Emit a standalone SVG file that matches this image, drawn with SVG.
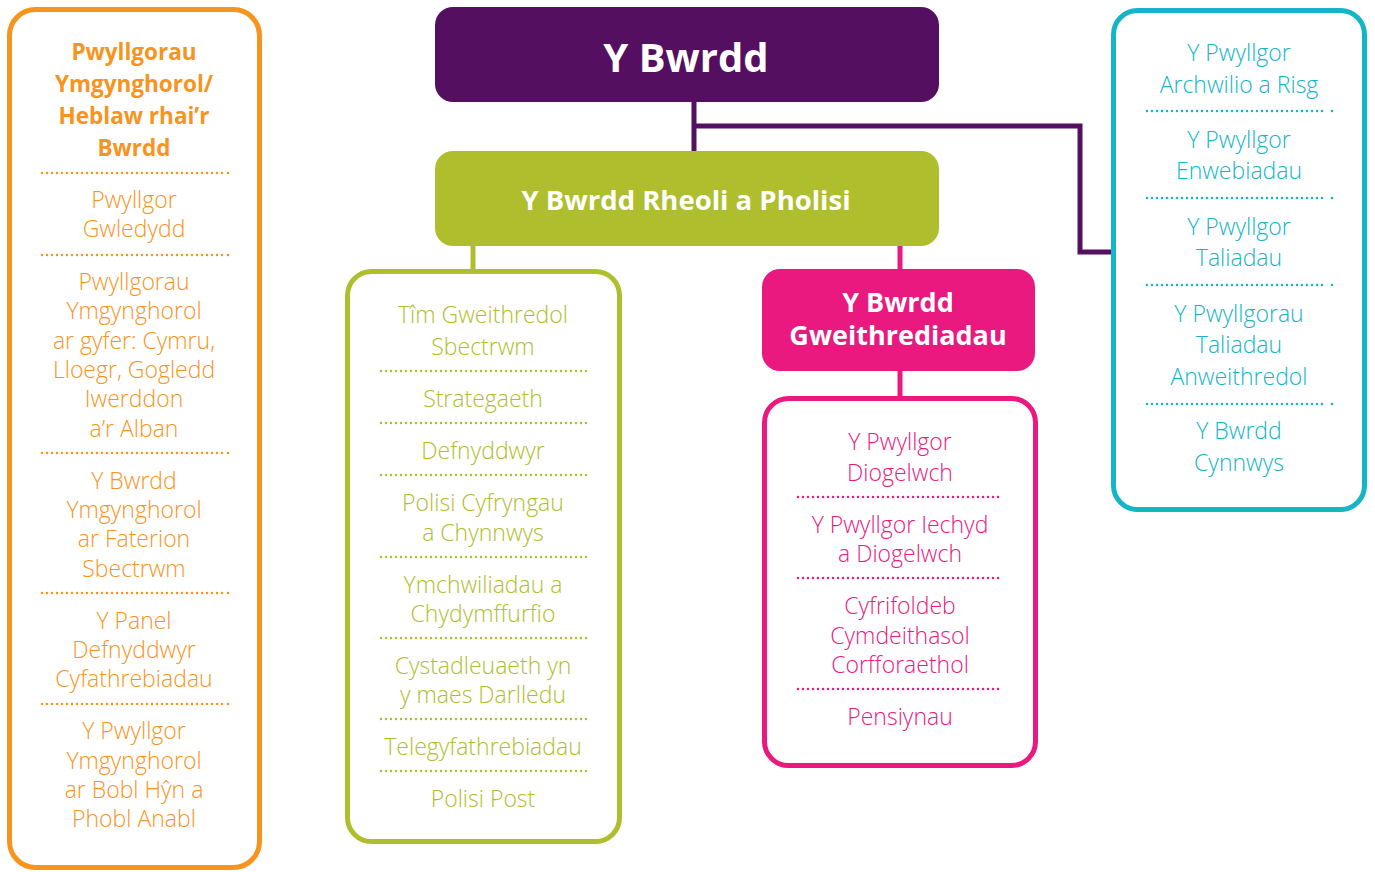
<svg xmlns="http://www.w3.org/2000/svg" width="1375" height="872" viewBox="0 0 1375 872">
<style>
.t{font-family:"Open Sans","Noto Sans",sans-serif;font-size:23px;font-weight:300;text-anchor:middle}
.b{font-family:"Open Sans","Noto Sans",sans-serif;font-weight:700;text-anchor:middle;fill:#fff}
.or{fill:#F7941D}.gr{fill:#AFBE2D}.pk{fill:#E9197F}.cy{fill:#13B5C7}
.box{fill:#fff;stroke-width:5}
.dot{stroke-width:2.5;stroke-linecap:round;stroke-dasharray:0 5;fill:none}
</style>
<rect width="1375" height="872" fill="#fff"/>
<g id="connectors" fill="none" stroke-width="5">
<path d="M694 101V151" stroke="#540F61"/>
<path d="M694 126H1080V252H1113" stroke="#540F61"/>
<path d="M473 245V271" stroke="#AFBE2D"/>
<path d="M900 245V269" stroke="#E9197F"/>
<path d="M900 371V398" stroke="#E9197F"/>
</g>
<g id="advisory">
<rect class="box" x="9.5" y="9.5" width="250" height="858" rx="26" stroke="#F7941D"/>
<g class="or" style="font-family:'Open Sans','Noto Sans',sans-serif;font-size:22.5px;font-weight:700;text-anchor:middle">
<text x="134" y="60">Pwyllgorau</text><text x="134" y="92">Ymgynghorol/</text><text x="134" y="124">Heblaw rhai’r</text><text x="134" y="156">Bwrdd</text>
</g>
<g class="t or">
<text x="134" y="208">Pwyllgor</text><text x="134" y="237">Gwledydd</text>
<text x="134" y="290">Pwyllgorau</text><text x="134" y="319">Ymgynghorol</text><text x="134" y="349">ar gyfer: Cymru,</text><text x="134" y="378">Lloegr, Gogledd</text><text x="134" y="407">Iwerddon</text><text x="134" y="437">a’r Alban</text>
<text x="134" y="489">Y Bwrdd</text><text x="134" y="518">Ymgynghorol</text><text x="134" y="547">ar Faterion</text><text x="134" y="577">Sbectrwm</text>
<text x="134" y="629">Y Panel</text><text x="134" y="658">Defnyddwyr</text><text x="134" y="687">Cyfathrebiadau</text>
<text x="134" y="739">Y Pwyllgor</text><text x="134" y="769">Ymgynghorol</text><text x="134" y="798">ar Bobl Hŷn a</text><text x="134" y="827">Phobl Anabl</text>
</g>
<g class="dot" stroke="#F7941D">
<path d="M42 173H223"/><path d="M42 255H223"/><path d="M42 453H223"/><path d="M42 593H223"/><path d="M42 704H223"/>
</g>
<g fill="#F7941D"><circle cx="228" cy="173" r="1.3"/><circle cx="228" cy="255" r="1.3"/><circle cx="228" cy="453" r="1.3"/><circle cx="228" cy="593" r="1.3"/><circle cx="228" cy="704" r="1.3"/></g>
</g>
<g id="board">
<rect x="435" y="7" width="504" height="95" rx="18" fill="#540F61"/>
<text class="b" x="686" y="72" font-size="40">Y Bwrdd</text>
</g>
<g id="mgmt">
<rect x="435" y="151" width="504" height="95" rx="18" fill="#AFBE2D"/>
<text class="b" x="686" y="210" font-size="27.5">Y Bwrdd Rheoli a Pholisi</text>
</g>
<g id="mgmt-list">
<rect class="box" x="347.5" y="271.5" width="272" height="570" rx="24" stroke="#AFBE2D"/>
<g class="t gr">
<text x="483" y="323">Tîm Gweithredol</text><text x="483" y="355">Sbectrwm</text>
<text x="483" y="407">Strategaeth</text>
<text x="483" y="459">Defnyddwyr</text>
<text x="483" y="511">Polisi Cyfryngau</text><text x="483" y="541">a Chynnwys</text>
<text x="483" y="593">Ymchwiliadau a</text><text x="483" y="622">Chydymffurfio</text>
<text x="483" y="674">Cystadleuaeth yn</text><text x="483" y="703">y maes Darlledu</text>
<text x="483" y="755">Telegyfathrebiadau</text>
<text x="483" y="807">Polisi Post</text>
</g>
<g class="dot" stroke="#AFBE2D">
<path d="M381 371H587"/><path d="M381 423H587"/><path d="M381 475H587"/><path d="M381 557H587"/><path d="M381 638H587"/><path d="M381 719H587"/><path d="M381 771H587"/>
</g>
</g>
<g id="ops">
<rect x="762" y="269" width="273" height="102" rx="18" fill="#E9197F"/>
<text class="b" x="898" y="312" font-size="27">Y Bwrdd</text>
<text class="b" x="898" y="345" font-size="27">Gweithrediadau</text>
</g>
<g id="ops-list">
<rect class="box" x="764.5" y="398.5" width="271" height="367" rx="24" stroke="#E9197F"/>
<g class="t pk">
<text x="900" y="450">Y Pwyllgor</text><text x="900" y="481">Diogelwch</text>
<text x="900" y="533">Y Pwyllgor Iechyd</text><text x="900" y="562">a Diogelwch</text>
<text x="900" y="614">Cyfrifoldeb</text><text x="900" y="644">Cymdeithasol</text><text x="900" y="673">Corfforaethol</text>
<text x="900" y="725">Pensiynau</text>
</g>
<g class="dot" stroke="#E9197F">
<path d="M798 497H1003"/><path d="M798 578H1003"/><path d="M798 689H1003"/>
</g>
</g>
<g id="board-committees">
<rect class="box" x="1113.5" y="10.5" width="251" height="499" rx="24" stroke="#13B5C7"/>
<g class="t cy">
<text x="1239" y="61">Y Pwyllgor</text><text x="1239" y="93">Archwilio a Risg</text>
<text x="1239" y="148">Y Pwyllgor</text><text x="1239" y="179">Enwebiadau</text>
<text x="1239" y="235">Y Pwyllgor</text><text x="1239" y="266">Taliadau</text>
<text x="1239" y="322">Y Pwyllgorau</text><text x="1239" y="353">Taliadau</text><text x="1239" y="385">Anweithredol</text>
<text x="1239" y="439">Y Bwrdd</text><text x="1239" y="471">Cynnwys</text>
</g>
<g class="dot" stroke="#13B5C7">
<path d="M1147 111H1327"/><path d="M1147 198H1327"/><path d="M1147 285H1327"/><path d="M1147 404H1327"/>
</g>
<g fill="#13B5C7"><circle cx="1332" cy="111" r="1.3"/><circle cx="1332" cy="198" r="1.3"/><circle cx="1332" cy="285" r="1.3"/><circle cx="1332" cy="404" r="1.3"/></g>
</g>
</svg>
